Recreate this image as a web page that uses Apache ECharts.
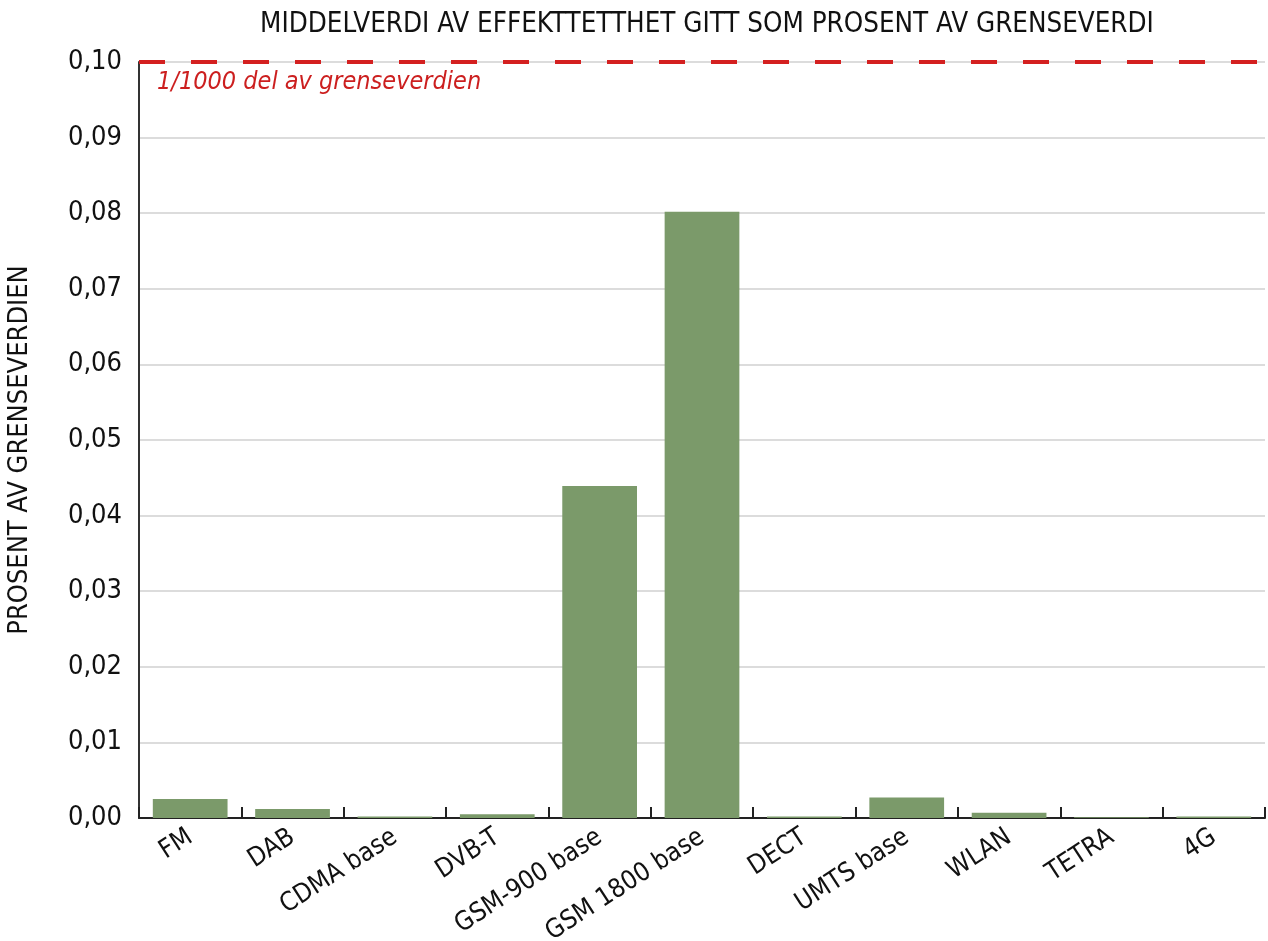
<!DOCTYPE html>
<html>
<head>
<meta charset="utf-8">
<script src="https://cdn.jsdelivr.net/npm/echarts@6/dist/echarts.min.js"></script>
<style>
html,body{margin:0;padding:0;background:#fff;}
#chart{width:1268px;height:941px;}
</style>
</head>
<body>
<div id="chart"></div>
<script>
const titleText = 'MIDDELVERDI AV EFFEKTTETTHET GITT SOM PROSENT AV GRENSEVERDI';
const yAxisName = 'PROSENT AV GRENSEVERDIEN';
const categories = ['FM', 'DAB', 'CDMA base', 'DVB-T', 'GSM-900 base', 'GSM 1800 base', 'DECT', 'UMTS base', 'WLAN', 'TETRA', '4G'];
const values = [0.0025, 0.0012, 0.0002, 0.0005, 0.0439, 0.0802, 0.0002, 0.0027, 0.0007, 0.0001, 0.0002];
const limitValue = 0.10;
const limitLabel = '1/1000 del av grenseverdien';

const chart = echarts.init(document.getElementById('chart'));
const font = '"DejaVu Sans Condensed", "DejaVu Sans"';
chart.setOption({
  animation: false,
  backgroundColor: '#fff',
  title: {
    text: titleText,
    left: 702, top: 6, textAlign: 'center',
    textStyle: {fontFamily: font, fontSize: 27.5, fontWeight: 'normal', color: '#111'}
  },
  grid: {left: 139, right: 3, top: 62, bottom: 123, containLabel: false, outerBoundsMode: 'none'},
  xAxis: {
    type: 'category',
    data: categories,
    axisLine: {lineStyle: {color: '#222', width: 2}},
    axisTick: {show: true, inside: true, length: 11, lineStyle: {color: '#222', width: 2}},
    axisLabel: {rotate: 33, fontFamily: font, fontSize: 26, color: '#111', margin: 17, interval: 0}
  },
  yAxis: {
    type: 'value',
    min: 0, max: 0.1, interval: 0.01,
    name: yAxisName,
    nameLocation: 'middle',
    nameGap: 106,
    nameTextStyle: {fontFamily: font, fontSize: 27, color: '#111', padding: [0, 20, 0, 0]},
    axisLine: {show: true, lineStyle: {color: '#333', width: 2}},
    axisTick: {show: false},
    axisLabel: {fontFamily: font, fontSize: 27, color: '#111', margin: 17,
      formatter: v => v.toFixed(2).replace('.', ',')},
    splitLine: {lineStyle: {color: '#dcdcdc', width: 2}}
  },
  series: [{
    type: 'bar',
    data: values,
    barCategoryGap: '27%',
    itemStyle: {color: '#7b9a6a'},
    markLine: {
      symbol: 'none',
      silent: true,
      lineStyle: {color: '#d42020', type: [26, 26], width: 4},
      label: {
        position: 'insideStartBottom',
        formatter: limitLabel,
        fontFamily: font, fontStyle: 'italic', fontSize: 25, color: '#cc1f1f',
        distance: [18, 8]
      },
      data: [{yAxis: limitValue}]
    }
  }]
});
</script>
</body>
</html>
